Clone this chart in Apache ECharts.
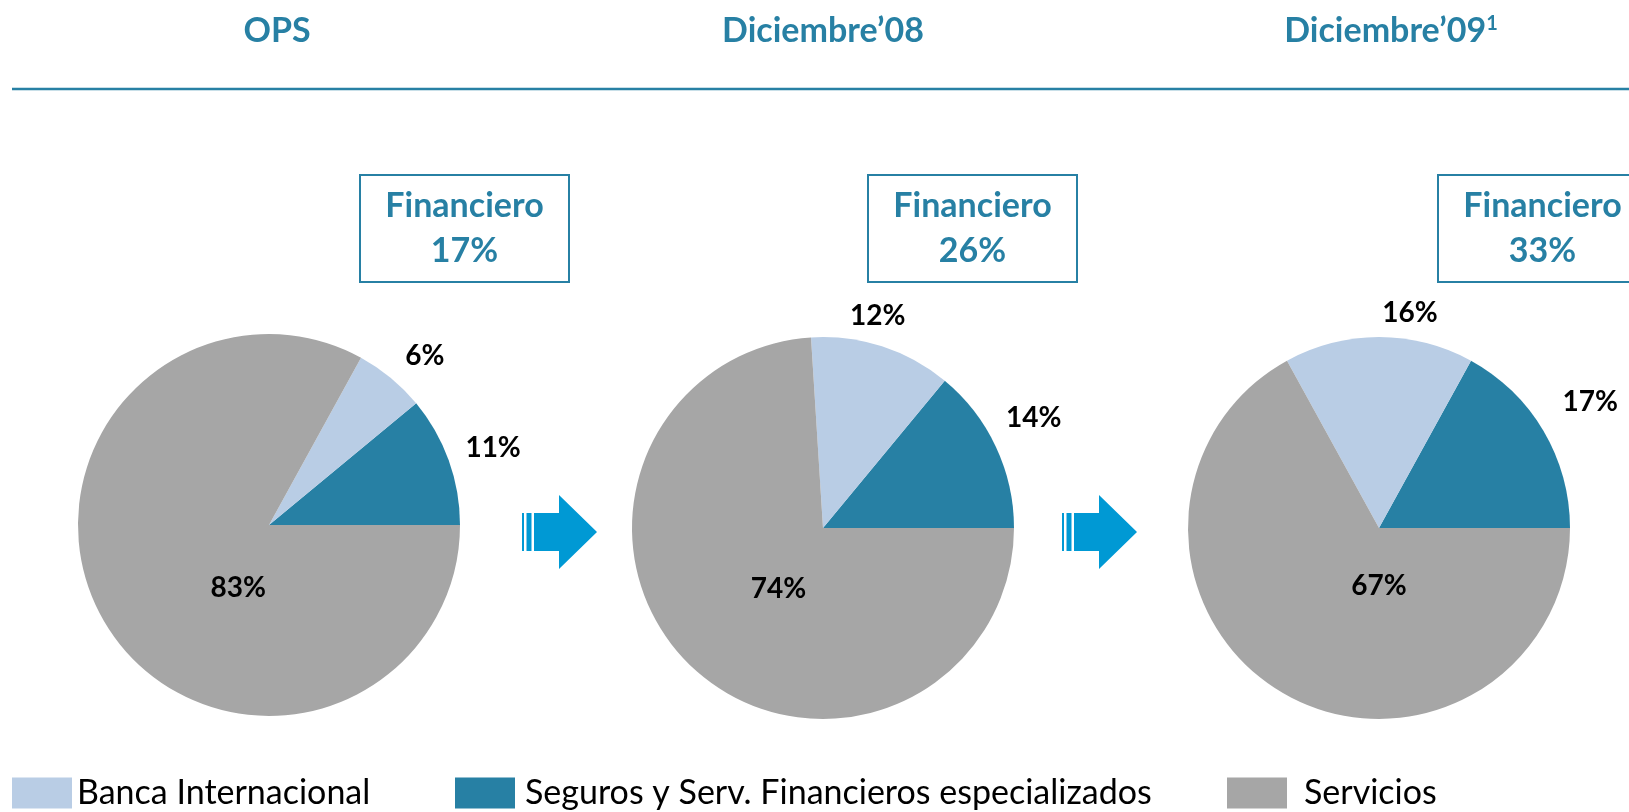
<!DOCTYPE html>
<html>
<head>
<meta charset="utf-8">
<title>Composición</title>
<script src="https://cdn.jsdelivr.net/npm/echarts@6/dist/echarts.min.js"></script>
<style>
  html, body { margin: 0; padding: 0; background: #fff; }
  #chart { width: 1629px; height: 812px; }
</style>
</head>
<body>
<div id="chart"></div>
<script>
// --- data ---
const periods = ['OPS', 'Diciembre’08', 'Diciembre’09'];
const periodNotes = ['', '', '1'];
const sectors = ['Seguros y Serv. Financieros especializados', 'Banca Internacional', 'Servicios'];
const seguros = [11, 14, 17];
const banca = [6, 12, 16];
const servicios = [83, 74, 67];
const financiero = [17, 26, 33];

// --- look ---
const TEAL = '#2780a4';
const FONT = 'Lato, "Open Sans", sans-serif';
const sliceColors = ['#2780a4', '#b9cde5', '#a6a6a6'];
const centers = [[269, 525], [823, 528], [1379, 528]];
const titleX = [277, 823, 1391];
const boxX = [360, 868, 1438];
const arrowX = [522, 1062];
// small label nudges so they sit where the original put them
const nudges = [
  [[3, 3], [6, 12], [54, 13]],
  [[-2, -10], [-18, 11], [23, -11]],
  [[9, -6], [31, 20], [50, -27]]
];

const labelFont = { color: '#000', fontSize: 28, fontWeight: 'bold', fontFamily: FONT };

const series = [];
periods.forEach((p, i) => {
  const vals = [seguros[i], banca[i], servicios[i]];
  series.push({
    type: 'pie',
    name: p,
    center: centers[i],
    radius: 191,
    startAngle: 0,
    clockwise: false,
    avoidLabelOverlap: false,
    labelLine: { show: false },
    emphasis: { disabled: true },
    data: sectors.map((s, k) => ({
      name: s,
      value: vals[k],
      itemStyle: { color: sliceColors[k] },
      label: k === 2
        ? Object.assign({ show: true, position: 'inside', formatter: '{c}%', offset: nudges[i][k] }, labelFont)
        : { show: false }
    }))
  });
});
// transparent ring carrying the outside labels of the small slices
periods.forEach((p, i) => {
  const vals = [seguros[i], banca[i], servicios[i]];
  series.push({
    type: 'pie',
    name: p + ' etiquetas',
    center: centers[i],
    radius: [212, 252],
    startAngle: 0,
    clockwise: false,
    silent: true,
    avoidLabelOverlap: false,
    labelLine: { show: false },
    itemStyle: { color: 'rgba(0,0,0,0)' },
    data: sectors.map((s, k) => ({
      name: s,
      value: vals[k],
      label: k < 2
        ? Object.assign({ show: true, position: 'inside', formatter: '{c}%', offset: nudges[i][k] }, labelFont)
        : { show: false }
    }))
  });
});

const legendBase = {
  icon: 'rect',
  itemWidth: 60,
  itemHeight: 31,
  padding: 0,
  selectedMode: false,
  top: 776
};
const legendText = (pad) => ({ color: '#000', fontSize: 34, fontFamily: FONT, padding: pad });

const graphic = [
  { type: 'line', silent: true, shape: { x1: 12, y1: 89, x2: 1629, y2: 89 }, style: { stroke: TEAL, lineWidth: 2.5 } }
];
periods.forEach((p, i) => {
  graphic.push({
    type: 'text',
    x: titleX[i],
    y: 31,
    style: {
      text: '{t|' + p + '}' + (periodNotes[i] ? '{s|' + periodNotes[i] + '}' : ''),
      align: 'center',
      verticalAlign: 'middle',
      rich: {
        t: { fontSize: 34, fontWeight: 'bold', fontFamily: FONT, fill: TEAL },
        s: { fontSize: 20, fontWeight: 'bold', fontFamily: FONT, fill: TEAL, verticalAlign: 'top' }
      }
    }
  });
  graphic.push({
    type: 'rect',
    shape: { x: boxX[i], y: 175, width: 209, height: 107 },
    style: { fill: '#fff', stroke: TEAL, lineWidth: 2 }
  });
  graphic.push({
    type: 'text',
    x: boxX[i] + 104.5,
    y: 229,
    style: {
      text: 'Financiero\n' + financiero[i] + '%',
      align: 'center',
      verticalAlign: 'middle',
      lineHeight: 45,
      fontSize: 34,
      fontWeight: 'bold',
      fontFamily: FONT,
      fill: TEAL
    }
  });
});
arrowX.forEach((x) => {
  graphic.push({
    type: 'group',
    x: x,
    y: 532,
    silent: true,
    children: [
      { type: 'rect', shape: { x: 0, y: -19, width: 2, height: 38 }, style: { fill: '#0099d4' } },
      { type: 'rect', shape: { x: 4.5, y: -19, width: 5, height: 38 }, style: { fill: '#0099d4' } },
      { type: 'polygon', shape: { points: [[12, -19], [37, -19], [37, -37], [75, 0], [37, 37], [37, 19], [12, 19]] }, style: { fill: '#0099d4' } }
    ]
  });
});

const options = {
  animation: false,
  backgroundColor: '#fff',
  textStyle: { fontFamily: FONT },
  legend: [
    Object.assign({}, legendBase, { left: 12, data: [sectors[1]], textStyle: legendText([13, 0, 0, 0]) }),
    Object.assign({}, legendBase, { left: 455, data: [sectors[0]], textStyle: legendText([3, 0, 0, 5]) }),
    Object.assign({}, legendBase, { left: 1227, data: [sectors[2]], textStyle: legendText([0, 0, 15, 12]) })
  ],
  graphic: graphic,
  series: series
};

const chart = echarts.init(document.getElementById('chart'));
chart.setOption(options);
window.addEventListener('resize', () => {
  chart.resize();
});
</script>
</body>
</html>
